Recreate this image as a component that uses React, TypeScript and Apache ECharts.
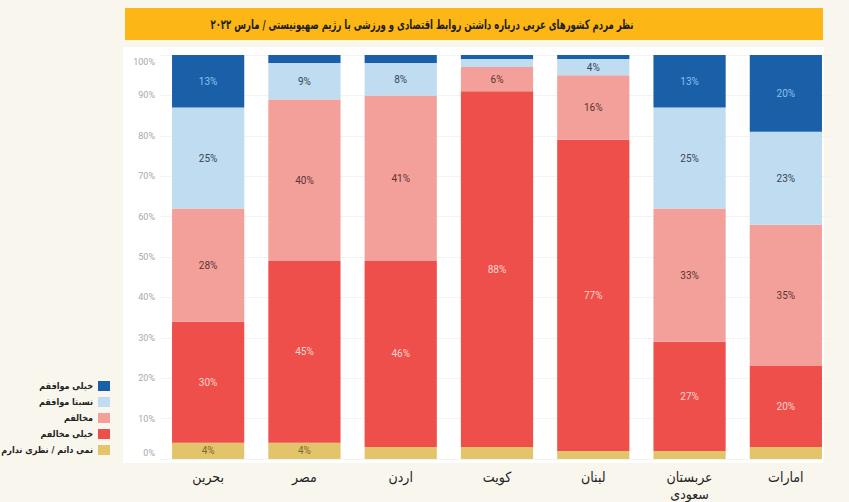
import React, { useEffect, useRef } from "react";
import * as echarts from "echarts";

const countries = ["بحرین", "مصر", "اردن", "کویت", "لبنان", "عربستان\nسعودی", "امارات"];
const noOpinion = [4, 4, 3, 3, 2, 2, 3];
const stronglyOppose = [30, 45, 46, 88, 77, 27, 20];
const oppose = [28, 40, 41, 6, 16, 33, 35];
const somewhatAgree = [25, 9, 8, 2, 4, 25, 23];
const stronglyAgree = [13, 2, 2, 1, 1, 13, 20];

const seriesNames = ["نمی دانم / نظری ندارم", "خیلی مخالفم", "مخالفم", "نسبتا موافقم", "خیلی موافقم"];
const seriesColors = ["#e2c46a", "#ee4f4a", "#f4a09a", "#bfdcf0", "#1a60a8"];
const labelColors = ["#7b6a35", "#fcd6cf", "#5b3434", "#3a4550", "#8cc0ec"];
const seriesValues = [noOpinion, stronglyOppose, oppose, somewhatAgree, stronglyAgree];
const legendOrder = ["خیلی موافقم", "نسبتا موافقم", "مخالفم", "خیلی مخالفم", "نمی دانم / نظری ندارم"];

const titleText = "نظر مردم کشورهای عربی درباره داشتن روابط اقتصادی و ورزشی با رژیم صهیونیستی / مارس ۲۰۲۲";

const FA = "'DejaVu Sans Condensed', 'DejaVu Sans', sans-serif";
const NUM = "'Liberation Sans Narrow', Roboto, 'Liberation Sans', sans-serif";

export default function App() {
  const ref = useRef<HTMLDivElement>(null);
  useEffect(() => {
    if (!ref.current) return;
    const chart = echarts.init(ref.current, null, { renderer: "svg" });
    const series = seriesValues.map((vals, i) => ({
      name: seriesNames[i],
      type: "bar",
      stack: "total",
      barCategoryGap: "25%",
      itemStyle: { color: seriesColors[i] },
      label: {
        position: "inside",
        formatter: "{c}%",
        color: labelColors[i],
        fontSize: 10,
        fontFamily: NUM,
      },
      data: vals.map((v) => ({ value: v, label: { show: v >= 4 } })),
    }));
    chart.setOption({
      animation: false,
      backgroundColor: "#f9f6ee",
      graphic: [
        {
          type: "rect",
          z: -100,
          silent: true,
          shape: { x: 123, y: 47, width: 701, height: 416 },
          style: { fill: "#ffffff" },
        },
        {
          type: "rect",
          z: -100,
          silent: true,
          shape: { x: 125, y: 8, width: 698, height: 32 },
          style: { fill: "#fcb716" },
        },
        {
          type: "text",
          z: 10,
          x: 422,
          y: 24,
          scaleX: 0.73,
          style: {
            text: titleText,
            fill: "#1e1e1e",
            font: `bold 13px ${FA}`,
            textAlign: "center",
            textVerticalAlign: "middle",
          },
        },
      ],
      legend: {
        data: legendOrder,
        orient: "vertical",
        align: "right",
        right: 849 - 110,
        top: 381,
        padding: 0,
        itemWidth: 12,
        itemHeight: 10,
        itemGap: 6,
        icon: "rect",
        textStyle: { fontFamily: FA, fontWeight: "bold", fontSize: 9, color: "#222" },
      },
      grid: { left: 160, right: 15, top: 55, bottom: 41 },
      xAxis: {
        type: "category",
        data: countries,
        axisLine: { show: false },
        axisTick: { show: false },
        axisLabel: {
          color: "#222",
          fontSize: 14,
          fontFamily: FA,
          margin: 9,
          lineHeight: 17,
        },
      },
      yAxis: {
        type: "value",
        min: 0,
        max: 100,
        interval: 10,
        axisLine: { show: false },
        axisTick: { show: false },
        splitLine: { lineStyle: { color: "#f3f3f3", width: 1 } },
        axisLabel: {
          margin: 5,
          color: "#a8a8a8",
          fontSize: 9,
          fontFamily: NUM,
          formatter: (v: number) => (v === 100 ? "{t|100%}" : v === 0 ? "{b|0%}" : v + "%"),
          rich: {
            t: { padding: [14, 0, 0, 0], color: "#a8a8a8", fontSize: 9, fontFamily: NUM },
            b: { padding: [0, 0, 12, 0], color: "#a8a8a8", fontSize: 9, fontFamily: NUM },
          },
        },
      },
      series,
    });
    return () => chart.dispose();
  }, []);
  return (
    <div
      ref={ref}
      style={{ position: "fixed", left: 0, top: 0, width: 849, height: 502, background: "#f9f6ee" }}
    />
  );
}
